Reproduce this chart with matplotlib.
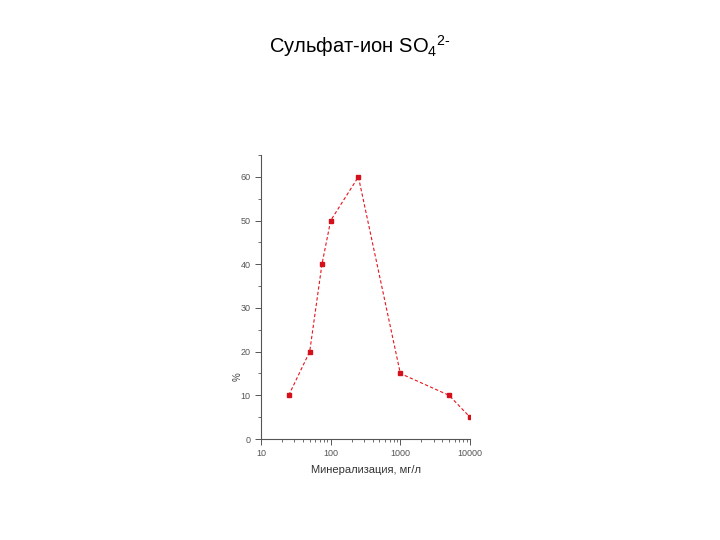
import matplotlib.pyplot as plt
import matplotlib.ticker as mticker

plt.rcParams['font.family'] = ['Liberation Sans', 'DejaVu Sans']
plt.rcParams['mathtext.fontset'] = 'custom'
plt.rcParams['mathtext.rm'] = 'Liberation Sans'

# mineralization, mg/l and share, %
mineral = [25, 50, 75, 100, 250, 1000, 5000, 10000]
share = [10, 20, 40, 50, 60, 15, 10, 5]

fig = plt.figure(figsize=(7.2, 5.4), dpi=100)
fig.text(0.5, 0.915, r'Сульфат-ион SO$_\mathrm{4}$$^{\mathrm{2}\text{-}}$',
         ha='center', va='center', fontsize=14.5)

ax = fig.add_axes([0.3625, 0.187, 0.2903, 0.526])
ax.plot(mineral, share, color='#e8141c', linestyle=(0, (3, 2)), linewidth=0.8,
        marker='s', markersize=3.5, markerfacecolor='#d4101a', markeredgecolor='#d4101a')

ax.set_xscale('log')
ax.set_xlim(10, 10000)
ax.set_ylim(0, 65)
ax.set_yticks([0, 10, 20, 30, 40, 50, 60])
ax.yaxis.set_minor_locator(mticker.MultipleLocator(5))
ax.xaxis.set_major_formatter(mticker.FuncFormatter(lambda v, p: f'{int(v)}'))

for side in ['top', 'right']:
    ax.spines[side].set_visible(False)
for side in ['left', 'bottom']:
    ax.spines[side].set_linewidth(0.8)
    ax.spines[side].set_color('#555555')

ax.tick_params(axis='both', which='major', labelsize=6.5, colors='#555555', length=4, width=0.7)
ax.tick_params(axis='both', which='minor', length=2.5, width=0.6, colors='#555555')

ax.set_xlabel('Минерализация, мг/л', fontsize=8, color='#333333', labelpad=5)
ax.set_ylabel('%', fontsize=7, color='#444444', labelpad=10)
ax.yaxis.set_label_coords(-0.09, 0.22)

fig.savefig('out.png', dpi=100)
